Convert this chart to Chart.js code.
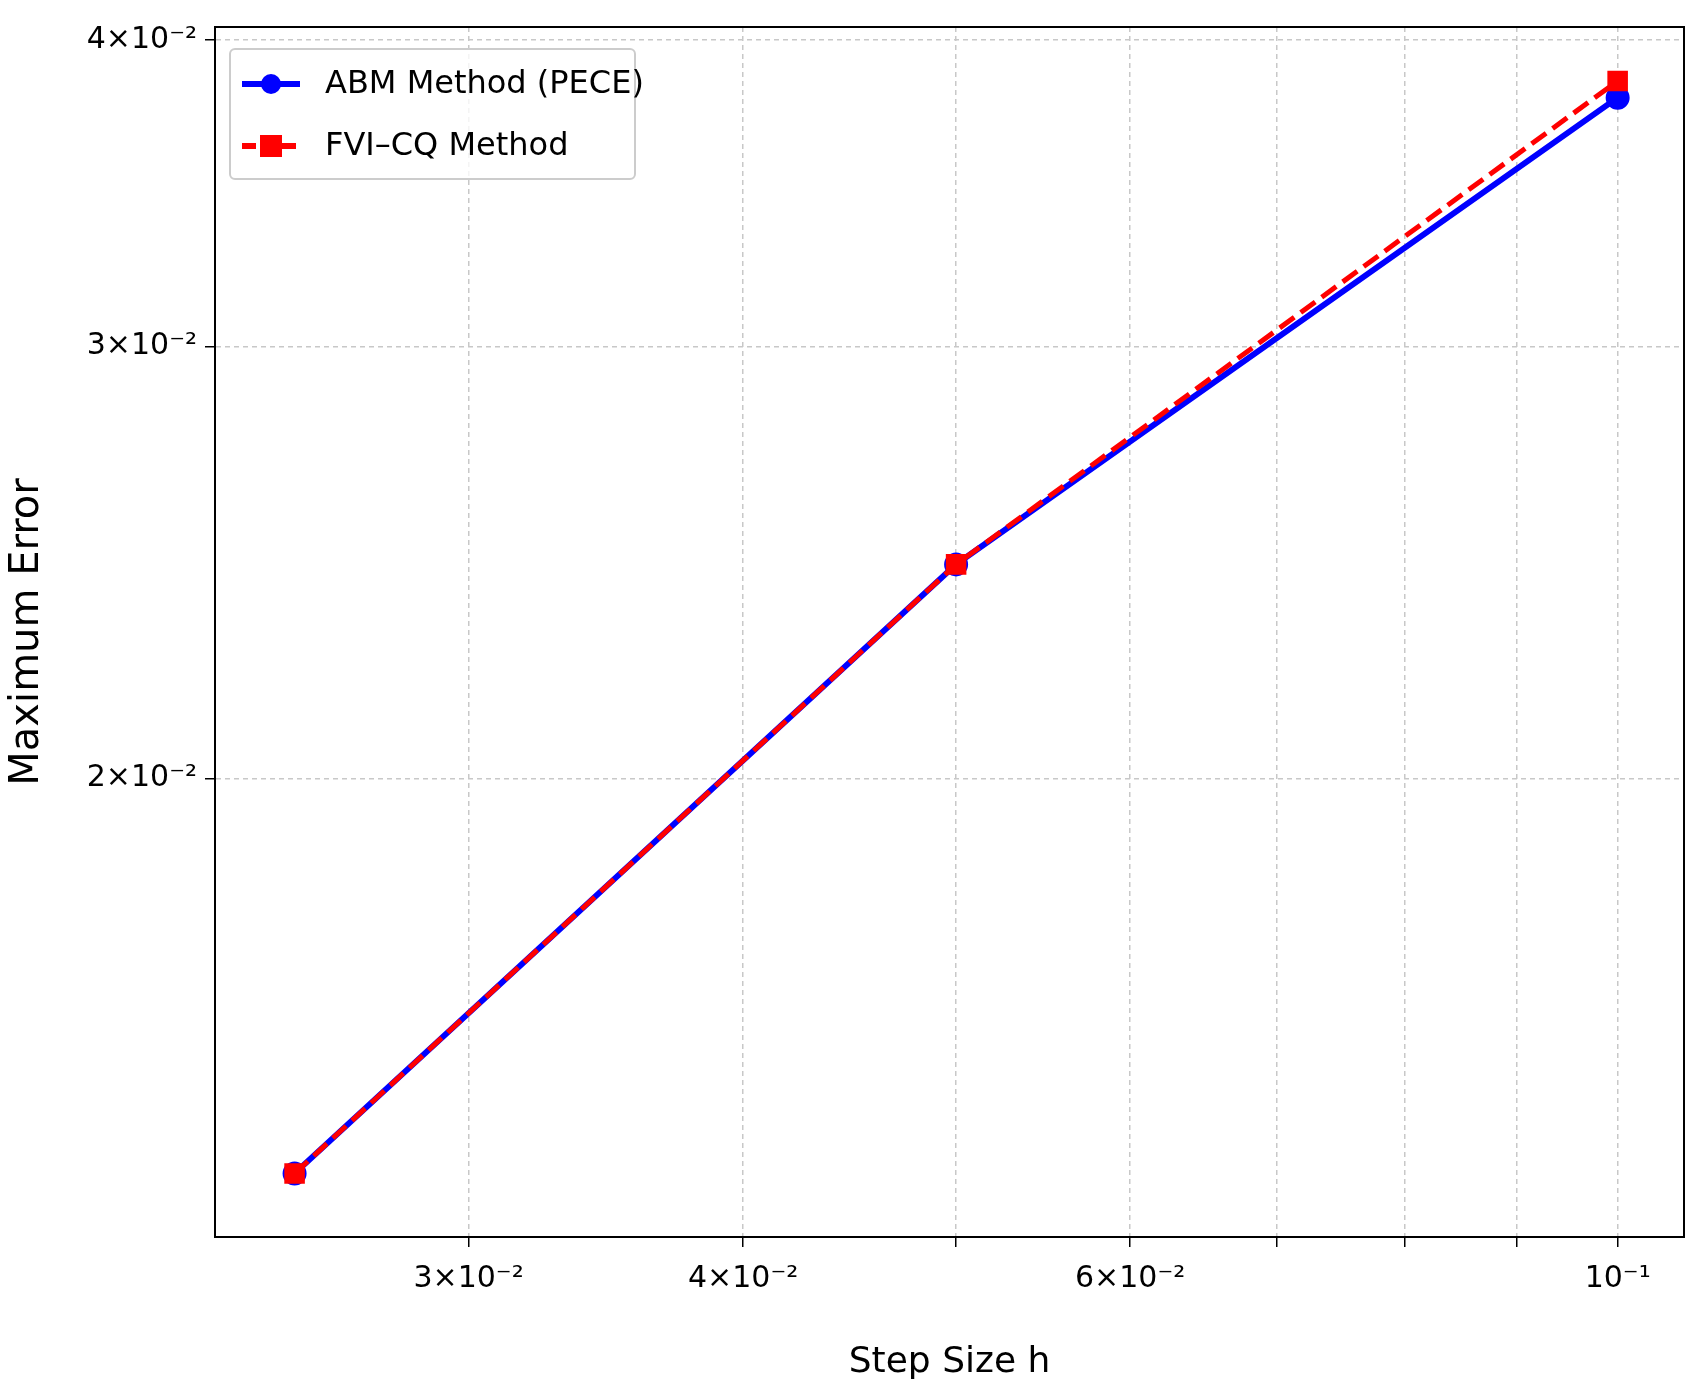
<!DOCTYPE html>
<html>
<head>
<meta charset="utf-8">
<script src="https://cdn.jsdelivr.net/npm/chart.js@4/dist/chart.umd.min.js"></script>
<style>
  html, body { margin: 0; padding: 0; background: #fff; }
  #wrap { width: 1700px; height: 1388px; }
</style>
</head>
<body>
<div id="wrap"><canvas id="c"></canvas></div>
<script>
// values
const stepSizes = [0.025, 0.05, 0.1];
const abmErrors = [0.0138, 0.02445, 0.0379];
const fviErrors = [0.0138, 0.02445, 0.0385];
const xGridValues = [0.03, 0.04, 0.05, 0.06, 0.07, 0.08, 0.09, 0.1];
const xLabels = { 0.03: '3×10⁻²', 0.04: '4×10⁻²', 0.06: '6×10⁻²', 0.1: '10⁻¹' };
const yGridValues = [0.02, 0.03, 0.04];
const yLabels = { 0.02: '2×10⁻²', 0.03: '3×10⁻²', 0.04: '4×10⁻²' };

const fam = "'DejaVu Sans', sans-serif";

// legend box drawn inside the plot, top-left
const legendBox = {
    id: 'legendBox',
    afterDraw(chart) {
        const ctx = chart.ctx;
        const a = chart.chartArea;
        const x = a.left + 15, y = a.top + 22, w = 405, h = 130;
        ctx.save();
        ctx.fillStyle = 'rgba(255,255,255,0.8)';
        ctx.strokeStyle = '#ccc';
        ctx.lineWidth = 2;
        ctx.beginPath();
        ctx.roundRect(x, y, w, h, 5);
        ctx.fill(); ctx.stroke();
        const items = [
            { label: 'ABM Method (PECE)', color: '#0000ff', dash: [], shape: 'circle' },
            { label: 'FVI–CQ Method', color: '#ff0000', dash: [14, 6], shape: 'square' }
        ];
        items.forEach((it, i) => {
            const cy = y + 35 + i * 62;
            ctx.strokeStyle = it.color;
            ctx.fillStyle = it.color;
            ctx.lineWidth = 6;
            ctx.setLineDash(it.dash);
            ctx.beginPath(); ctx.moveTo(x + 12, cy); ctx.lineTo(x + 70, cy); ctx.stroke();
            ctx.setLineDash([]);
            if (it.shape === 'circle') {
                ctx.beginPath(); ctx.arc(x + 41, cy, 10, 0, Math.PI * 2); ctx.fill();
            } else {
                ctx.fillRect(x + 30, cy - 11, 22, 22);
            }
            ctx.fillStyle = '#000';
            ctx.font = '32px ' + fam;
            ctx.textBaseline = 'middle';
            ctx.fillText(it.label, x + 95, cy + 1);
        });
        ctx.restore();
    }
};

new Chart(document.getElementById('c'), {
    type: 'line',
    data: {
        datasets: [
            {
                label: 'ABM Method (PECE)',
                data: stepSizes.map((h, i) => ({ x: h, y: abmErrors[i] })),
                borderColor: '#0000ff',
                backgroundColor: '#0000ff',
                borderWidth: 6,
                pointStyle: 'circle',
                pointRadius: 9,
                tension: 0,
                order: 2
            },
            {
                label: 'FVI–CQ Method',
                data: stepSizes.map((h, i) => ({ x: h, y: fviErrors[i] })),
                borderColor: '#ff0000',
                backgroundColor: '#ff0000',
                borderWidth: 5,
                borderDash: [18, 8],
                pointStyle: 'rect',
                pointRadius: 11,
                tension: 0,
                order: 1
            }
        ]
    },
    options: {
        responsive: true,
        maintainAspectRatio: false,
        animation: false,
        layout: { padding: { top: 27, right: 16, left: 0, bottom: 0 } },
        plugins: { legend: { display: false }, tooltip: { enabled: false } },
        scales: {
            x: {
                type: 'logarithmic',
                min: 0.02305,
                max: 0.1072,
                afterBuildTicks: s => { s.ticks = xGridValues.map(v => ({ value: v })); },
                afterFit: s => { s.height = 151; },
                ticks: {
                    autoSkip: false, maxRotation: 0,
                    callback: v => xLabels[v] || '',
                    color: '#000', font: { size: 30, family: fam }, padding: 14
                },
                grid: { color: '#c8c8c8', lineWidth: 1.5, tickLength: 10, tickColor: '#000', drawTicks: true },
                border: { color: '#000', width: 2, dash: [5, 4] },
                title: { display: true, text: 'Step Size h', color: '#000', font: { size: 36, family: fam }, padding: { top: 16 } }
            },
            y: {
                type: 'logarithmic',
                min: 0.0130,
                max: 0.0405,
                afterBuildTicks: s => { s.ticks = yGridValues.map(v => ({ value: v })); },
                afterFit: s => { s.width = 215; },
                ticks: {
                    autoSkip: false,
                    callback: v => yLabels[v] || '',
                    color: '#000', font: { size: 30, family: fam }, padding: 8
                },
                grid: { color: '#c8c8c8', lineWidth: 1.5, tickLength: 10, tickColor: '#000' },
                border: { color: '#000', width: 2, dash: [5, 4] },
                title: { display: true, text: 'Maximum Error', color: '#000', font: { size: 40, family: fam }, padding: { bottom: 4 } }
            }
        }
    },
    plugins: [legendBox, {
        id: 'frame',
        afterDraw(chart) {
            const a = chart.chartArea, ctx = chart.ctx;
            ctx.save();
            ctx.strokeStyle = '#000'; ctx.lineWidth = 2;
            ctx.strokeRect(a.left, a.top, a.right - a.left, a.bottom - a.top);
            ctx.restore();
        }
    }]
});
</script>
</body>
</html>
